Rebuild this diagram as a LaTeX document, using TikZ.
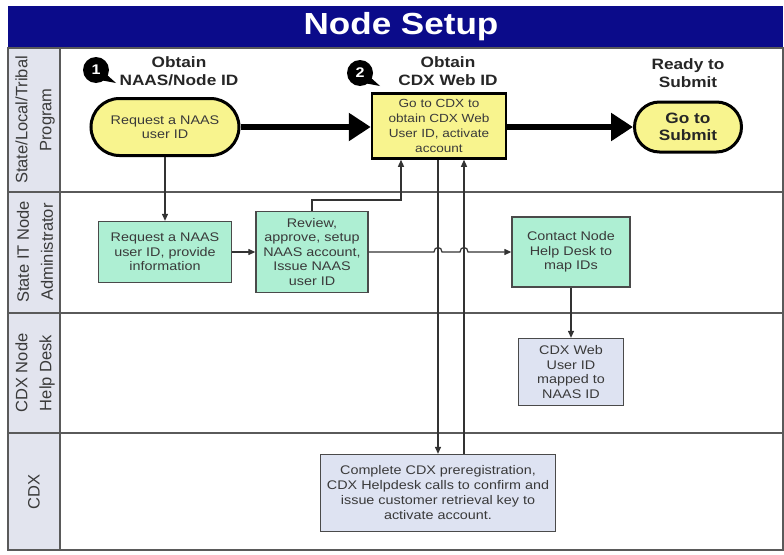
\documentclass[tikz,border=0pt]{standalone}
\usepackage{fontspec}
\setmainfont[FakeStretch=1.15]{Liberation Sans}
\newfontfamily\lanefont{Liberation Sans}
\usetikzlibrary{arrows.meta,calc,shapes.misc}
\definecolor{navy}{HTML}{0B0B8A}
\definecolor{yellowfill}{HTML}{F8F48E}
\definecolor{greenfill}{HTML}{AEEFD3}
\definecolor{bluefill}{HTML}{DEE3F2}
\definecolor{lanefill}{HTML}{E2E4EE}
\definecolor{gridline}{HTML}{5A5A5A}
\definecolor{txtgray}{HTML}{3A3A3A}
\definecolor{boxline}{HTML}{4A4A4A}
\begin{document}
\begin{tikzpicture}[x=1pt,y=-1pt,
  lanelabel/.style={rotate=90, font=\lanefont\fontsize{16.5}{24}\selectfont, text=txtgray, align=center, inner sep=0pt},
  heading/.style={font=\bfseries\fontsize{15}{18}\selectfont, text=black!85, align=center, inner sep=0pt},
  body/.style={font=\fontsize{12.5}{14.5}\selectfont, text=txtgray, align=center, inner sep=0pt},
  stad/.style={rounded rectangle, draw=black, line width=3pt, fill=yellowfill, align=center, inner sep=0pt},
  thickbox/.style={rectangle, draw=black, line width=2.5pt, fill=yellowfill, body},
  greenbox/.style={rectangle, draw=boxline, line width=1.3pt, fill=greenfill, body},
  bluebox/.style={rectangle, draw=boxline, line width=1.3pt, fill=bluefill, body},
  badge/.style={circle, fill=black, text=white, font=\bfseries\fontsize{14}{14}\selectfont, minimum size=26pt, inner sep=0pt},
  bigarrow/.style={line width=6pt, -{Triangle[length=22pt,width=27pt]}},
  tarrow/.style={draw=black!80, line width=1.2pt, -{Triangle[length=7pt,width=6pt]}},
  grid/.style={draw=gridline, line width=1.5pt}
]
\useasboundingbox (0,0) rectangle (784,554);
% title
\fill[navy] (8,6) rectangle (783,48);
\node[font=\bfseries\fontsize{30.5}{32}\selectfont, text=white, inner sep=0pt] (title) at (401,27) {Node Setup};
% lanes
\fill[lanefill] (8,48) rectangle (60,550);
\draw[grid] (8,48) rectangle (783,550);
\draw[grid] (60,48) -- (60,550);
\draw[grid] (8,192) -- (783,192);
\draw[grid] (8,313) -- (783,313);
\draw[grid] (8,433) -- (783,433);
\node[lanelabel] (l1) at (35,120) {State/Local/Tribal\\Program};
\node[lanelabel] (l2) at (35,252) {State IT Node\\Administrator};
\node[lanelabel] (l3) at (35,373) {CDX Node\\Help Desk};
\node[lanelabel] (l4) at (34,492) {CDX};
% headings and badges
\node[heading] (h1) at (179,71) {Obtain\\NAAS/Node ID};
\node[heading] (h2) at (448,71) {Obtain\\CDX Web ID};
\node[heading] (h3) at (688,73) {Ready to\\Submit};
\fill (96,70) ++(4,10) -- ++(16,3) -- ++(-10,-9) -- cycle;
\node[badge] (b1) at (96,70) {1};
\fill (360,73) ++(4,10) -- ++(16,3) -- ++(-10,-9) -- cycle;
\node[badge] (b2) at (360,73) {2};
% lane 1
\node[stad, minimum width=148pt, minimum height=57pt, body] (req1) at (165,127) {Request a NAAS\\user ID};
\node[thickbox, minimum width=134pt, minimum height=65pt, font=\fontsize{11.8}{15}\selectfont] (cdx) at (439,126) {Go to CDX to\\obtain CDX Web\\User ID, activate\\account};
\node[stad, minimum width=107pt, minimum height=50pt, font=\bfseries\fontsize{15}{17.5}\selectfont, text=black!85] (submit) at (688,127) {Go to\\Submit};
% lane 2
\node[greenbox, minimum width=133pt, minimum height=61pt] (reqinfo) at (165,252) {Request a NAAS\\user ID, provide\\information};
\node[greenbox, minimum width=112pt, minimum height=81pt] (review) at (312,252) {Review,\\approve, setup\\NAAS account,\\Issue NAAS\\user ID};
\node[greenbox, minimum width=118pt, minimum height=70pt] (contact) at (571,252) {Contact Node\\Help Desk to\\map IDs};
% lane 3
\node[bluebox, minimum width=105pt, minimum height=67pt] (mapped) at (571,372) {CDX Web\\User ID\\mapped to\\NAAS ID};
% lane 4
\node[bluebox, minimum width=235pt, minimum height=77pt, font=\fontsize{12.5}{15}\selectfont] (complete) at (438,493) {Complete CDX preregistration,\\CDX Helpdesk calls to confirm and\\issue customer retrieval key to\\activate account.};
% connectors
\coordinate (v1) at (438,0);
\coordinate (v2) at (464,0);
\coordinate (c1) at (401,200);
\draw[bigarrow] (req1.east) -- (req1.east -| cdx.west);
\draw[bigarrow] (cdx.east |- submit.west) -- (submit.west);
\draw[tarrow] (req1.south) -- (reqinfo.north);
\draw[tarrow] (reqinfo.east) -- (review.west);
\draw[tarrow] (review.north) |- (c1) -- (c1 |- cdx.south);
\draw[tarrow] (review.east) -- ($(review.east -| v1)+(-4,0)$) .. controls +(0,-6) and +(0,-6) .. ($(review.east -| v1)+(4,0)$)
   -- ($(review.east -| v2)+(-4,0)$) .. controls +(0,-6) and +(0,-6) .. ($(review.east -| v2)+(4,0)$) -- (contact.west);
\draw[tarrow] (cdx.south -| v1) -- (complete.north -| v1);
\draw[tarrow] (complete.north -| v2) -- (cdx.south -| v2);
\draw[tarrow] (contact.south) -- (mapped.north);
\end{tikzpicture}
\end{document}
